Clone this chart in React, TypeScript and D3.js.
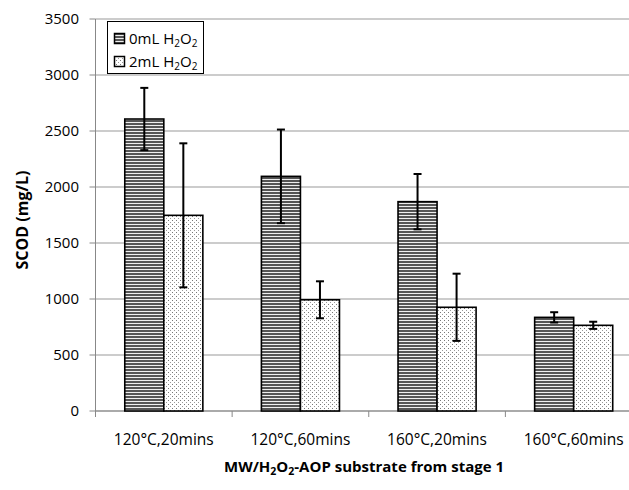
import React from "react";
import * as d3 from "d3";

const categories = ["120°C,20mins", "120°C,60mins", "160°C,20mins", "160°C,60mins"];
const series = ["0mL", "2mL"];
const values0 = [2607, 2095, 1869, 836];
const errors0 = [278, 418, 247, 46];
const values1 = [1747, 993, 926, 765];
const errors1 = [643, 165, 300, 32];
const yTicks = [0, 500, 1000, 1500, 2000, 2500, 3000, 3500];

const W = 629;
const H = 490;
const left = 95.5;
const right = 642;
const top = 19;
const bottom = 411;
const FONT = "'Open Sans', 'Noto Sans', sans-serif";

export default function App() {
  const x0 = d3.scaleBand<string>().domain(categories).range([left, right]).paddingInner(0).paddingOuter(0);
  const bw = x0.bandwidth();
  const off = (0.75 / 3.5) * bw;
  const gw = (2 / 3.5) * bw;
  const x1 = d3.scaleBand<string>().domain(series).range([off, off + gw]);
  const y = d3.scaleLinear().domain([0, 3500]).range([bottom, top]);

  const data = [
    { key: "0mL", values: values0, errors: errors0, fill: "url(#hlines)" },
    { key: "2mL", values: values1, errors: errors1, fill: "url(#dots)" },
  ];

  return (
    <svg width={W} height={H} style={{ position: "absolute", left: 0, top: 0, background: "#fff" }} fontFamily={FONT}>
      <defs>
        <pattern id="hlines" patternUnits="userSpaceOnUse" width={4} height={3}>
          <rect x={0} y={0} width={4} height={3} fill="#eeeeee" />
          <rect x={0} y={0} width={4} height={2} fill="#555" />
        </pattern>
        <pattern id="dots" patternUnits="userSpaceOnUse" width={4} height={4}>
          <rect x={0} y={0} width={4} height={4} fill="#fff" />
          <rect x={0} y={0} width={1} height={1} fill="#777" />
          <rect x={2} y={2} width={1} height={1} fill="#999" />
        </pattern>
      </defs>
      <rect x={0} y={0} width={W} height={H} fill="#fff" />
      {/* gridlines */}
      {yTicks.map((t) => (
        <line key={t} x1={left} x2={right} y1={y(t)} y2={y(t)} stroke="#999" strokeWidth={1} />
      ))}
      {/* y axis */}
      <line x1={left} x2={left} y1={top} y2={bottom} stroke="#888" strokeWidth={1} />
      {yTicks.map((t) => (
        <g key={"yt" + t}>
          <line x1={left - 6} x2={left} y1={y(t)} y2={y(t)} stroke="#888" />
          <text x={79} y={y(t)} dy="0.35em" textAnchor="end" fontSize={15} fill="#000">
            {t}
          </text>
        </g>
      ))}
      {/* x axis */}
      <line x1={left} x2={right} y1={bottom} y2={bottom} stroke="#888" strokeWidth={1} />
      {categories.map((c) => (
        <line key={"xt" + c} x1={x0(c)!} x2={x0(c)!} y1={bottom} y2={bottom + 6} stroke="#888" />
      ))}
      {categories.map((c) => (
        <text key={"xl" + c} x={x0(c)! + bw / 2} y={440} dy="0.35em" textAnchor="middle" fontSize={15.5} fill="#000">
          {c}
        </text>
      ))}
      {/* bars */}
      {data.map((s) =>
        categories.map((c, i) => {
          const bx = x0(c)! + x1(s.key)!;
          const w = x1.bandwidth();
          return (
            <rect key={s.key + c} x={bx} y={y(s.values[i])} width={w} height={bottom - y(s.values[i])} fill={s.fill} stroke="#000" strokeWidth={1.6} />
          );
        })
      )}
      {/* error bars */}
      {data.map((s) =>
        categories.map((c, i) => {
          const cx = x0(c)! + x1(s.key)! + x1.bandwidth() / 2;
          const hi = y(s.values[i] + s.errors[i]);
          const lo = y(s.values[i] - s.errors[i]);
          return (
            <g key={"e" + s.key + c} stroke="#000" strokeWidth={2}>
              <line x1={cx} x2={cx} y1={hi} y2={lo} />
              <line x1={cx - 4} x2={cx + 4} y1={hi} y2={hi} />
              <line x1={cx - 4} x2={cx + 4} y1={lo} y2={lo} />
            </g>
          );
        })
      )}
      {/* legend */}
      <rect x={107.5} y={21.5} width={96} height={52} fill="#fff" stroke="#000" strokeWidth={1} />
      <rect x={114.5} y={33.5} width={10} height={10} fill="url(#hlines)" stroke="#000" strokeWidth={1.5} />
      <rect x={114.5} y={56.5} width={10} height={10} fill="url(#dots)" stroke="#000" strokeWidth={1.5} />
      <text x={129} y={38.5} dy="0.35em" fontSize={15} fill="#000">
        0mL H<tspan fontSize={10} dy={3}>2</tspan><tspan dy={-3}>O</tspan><tspan fontSize={10} dy={3}>2</tspan>
      </text>
      <text x={129} y={61.5} dy="0.35em" fontSize={15} fill="#000">
        2mL H<tspan fontSize={10} dy={3}>2</tspan><tspan dy={-3}>O</tspan><tspan fontSize={10} dy={3}>2</tspan>
      </text>
      {/* axis titles */}
      <text transform="translate(28,220) rotate(-90)" textAnchor="middle" fontSize={16} fontWeight="bold" fill="#000">
        SCOD (mg/L)
      </text>
      <text x={364} y={472} textAnchor="middle" fontSize={15} fontWeight="bold" fill="#000">
        MW/H<tspan fontSize={10.5} dy={3}>2</tspan><tspan dy={-3}>O</tspan><tspan fontSize={10.5} dy={3}>2</tspan><tspan dy={-3}>-AOP substrate from stage 1</tspan>
      </text>
    </svg>
  );
}
